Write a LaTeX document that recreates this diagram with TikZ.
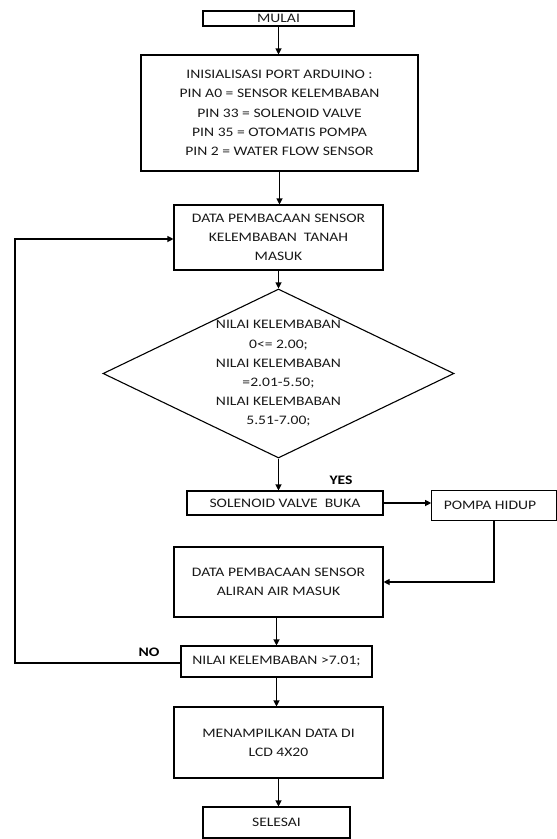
\documentclass[tikz,border=0pt]{standalone}
\usepackage{fontspec}
\setmainfont{Carlito}[FakeStretch=1.2]
\usetikzlibrary{arrows.meta,shapes.geometric}
\begin{document}
\begin{tikzpicture}[x=1pt,y=-1pt,
  every node/.style={font=\fontsize{13}{19.2}\selectfont, text=black!90},
  box/.style={draw=black, line width=1.1pt, inner sep=0pt, align=center},
  lbl/.style={font=\fontsize{13}{15}\selectfont\bfseries, text=black},
  arr/.style={line width=1.1pt, -{Triangle[length=6pt,width=6pt]}},
  ln/.style={line width=1.1pt}]
\useasboundingbox (0,0) rectangle (557,839);
\node[box, minimum width=151pt, minimum height=15pt] (mulai) at (278.5,18.5) {MULAI};
\node[box, minimum width=277pt, minimum height=116pt] (init) at (279.5,113) {INISIALISASI PORT ARDUINO :\\PIN A0 = SENSOR KELEMBABAN\\PIN 33 = SOLENOID VALVE\\PIN 35 = OTOMATIS POMPA\\PIN 2 = WATER FLOW SENSOR};
\node[box, minimum width=209pt, minimum height=65pt] (data1) at (278.5,237.5) {DATA PEMBACAAN SENSOR\\KELEMBABAN\ \ TANAH\\MASUK};
\node[draw=black, line width=1.1pt, diamond, inner sep=0pt, minimum width=351pt, minimum height=169pt] (dia) at (278.5,373.5) {};
\node[align=center] (diatext) at (dia.center) {NILAI KELEMBABAN\\0<= 2.00;\\NILAI KELEMBABAN\\=2.01-5.50;\\NILAI KELEMBABAN\\5.51-7.00;};
\node[box, minimum width=196pt, minimum height=24pt] (sol) at (285,503) {SOLENOID VALVE\ \ BUKA};
\node[box, minimum width=124.5pt, minimum height=29.5pt] (pompa) at (494,505.5) {};
\node (pompatext) at (490,505.5) {POMPA HIDUP};
\node[box, minimum width=209pt, minimum height=70pt] (aliran) at (278.5,582) {DATA PEMBACAAN SENSOR\\ALIRAN AIR MASUK};
\node[box, minimum width=191pt, minimum height=31pt] (nilai) at (276.5,661.5) {NILAI KELEMBABAN >7.01;};
\node[box, minimum width=209pt, minimum height=71pt] (lcd) at (278.5,742.5) {MENAMPILKAN DATA DI\\LCD 4X20};
\node[box, minimum width=147pt, minimum height=31pt] (selesai) at (276.5,822.5) {SELESAI};
\node[lbl] (yes) at (341,480.5) {YES};
\node[lbl] (no) at (149,652) {NO};
\coordinate (loopbl) at (15,663);
\coordinate (looptl) at (15,239);
\draw[arr] (mulai.south) -- (mulai.south |- init.north);
\draw[arr] (init.south) -- (init.south |- data1.north);
\draw[arr] (data1.south) -- (data1.south |- dia.north);
\draw[arr] (dia.south) -- (dia.south |- sol.north);
\draw[arr] (sol.east) -- (sol.east -| pompa.west);
\draw[arr] (pompa.south) |- (aliran.east);
\draw[arr] (aliran.south) -- (aliran.south -| nilai.north) -- (nilai.north);
\draw[arr] (nilai.west |- loopbl) -- (loopbl) -- (looptl) -- (looptl -| data1.west);
\draw[arr] (nilai.south) -- (nilai.south |- lcd.north);
\draw[arr] (lcd.south) -- (lcd.south |- selesai.north);
\end{tikzpicture}
\end{document}
